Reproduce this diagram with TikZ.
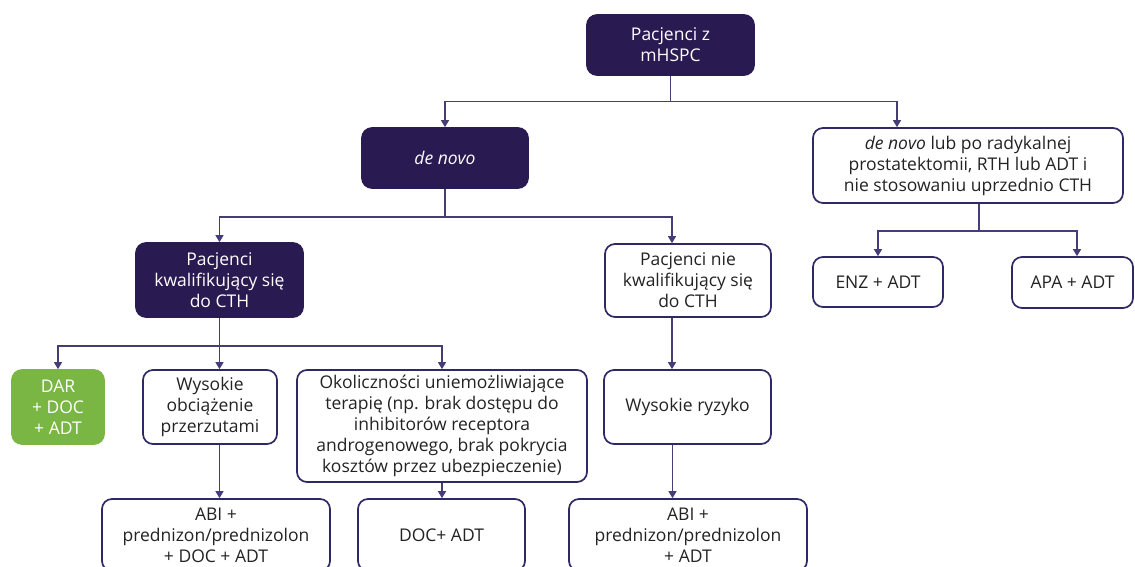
\documentclass[tikz,border=0pt]{standalone}
\usepackage{fontspec}
\setmainfont{Open Sans}
\usetikzlibrary{arrows.meta}
\definecolor{dk}{RGB}{42,26,82}
\definecolor{bd}{RGB}{46,40,100}
\definecolor{ln}{RGB}{70,60,120}
\definecolor{gr}{RGB}{122,182,68}
\definecolor{tx}{RGB}{35,35,35}
\begin{document}
\begin{tikzpicture}[x=1pt,y=-1pt,
  box/.style={draw=bd, line width=1.7pt, rounded corners=10pt, fill=white, align=center, inner sep=2pt, font=\fontsize{17.5}{21}\selectfont, text=tx},
  dbox/.style={box, fill=dk, draw=dk, text=white},
  gbox/.style={box, fill=gr, draw=gr, text=white},
  con/.style={draw=ln, line width=1.3pt},
  arr/.style={con, -{Triangle[length=7pt,width=8pt]}}]
\useasboundingbox (0,0) rectangle (1135,567);
\fill[white] (0,0) rectangle (1135,567);
% nodes
\node[dbox, minimum width=167pt, minimum height=60pt] (top) at (670.5,45) {Pacjenci z\\mHSPC};
\node[dbox, minimum width=166pt, minimum height=60pt] (denovo) at (445,158) {\itshape de novo};
\node[box, minimum width=310pt, minimum height=75pt] (right) at (968,165.5) {\textit{de novo} lub po radykalnej\\prostatektomii, RTH lub ADT i\\nie stosowaniu uprzednio CTH};
\node[dbox, minimum width=167pt, minimum height=74pt] (kwal) at (219.5,280) {Pacjenci\\kwalifikujący się\\do CTH};
\node[box, minimum width=166pt, minimum height=73pt] (niekwal) at (688,280.5) {Pacjenci nie\\kwalifikujący się\\do CTH};
\node[box, minimum width=130pt, minimum height=50pt] (enz) at (878,282) {ENZ + ADT};
\node[box, minimum width=121pt, minimum height=51pt] (apa) at (1072.5,282.5) {APA + ADT};
\node[gbox, minimum width=92pt, minimum height=74pt] (dar) at (58,407) {DAR\\+ DOC\\+ ADT};
\node[box, minimum width=134pt, minimum height=74pt] (wys) at (210,407) {Wysokie\\obciążenie\\przerzutami};
\node[box, minimum width=290pt, minimum height=112pt] (okol) at (442,426) {Okoliczności uniemożliwiające\\terapię (np. brak dostępu do\\inhibitorów receptora\\androgenowego, brak pokrycia\\kosztów przez ubezpieczenie)};
\node[box, minimum width=167pt, minimum height=74pt] (ryz) at (687.5,407) {Wysokie ryzyko};
\node[box, minimum width=228pt, minimum height=72pt] (abi1) at (216,535) {ABI +\\prednizon/prednizolon\\+ DOC + ADT};
\node[box, minimum width=167pt, minimum height=72pt] (doc) at (441.5,535) {DOC+ ADT};
\node[box, minimum width=238pt, minimum height=72pt] (abi2) at (688,535) {ABI +\\prednizon/prednizolon\\+ ADT};
% connectors
\draw[con] (top.south) -- ++(0,26) coordinate (j1);
\draw[arr] (j1) -| (denovo.north);
\draw[arr] (j1) -| ([xshift=-71pt]right.north);
\draw[con] ([xshift=11pt]right.south) -- ++(0,27) coordinate (j2);
\draw[arr] (j2) -| (enz.north);
\draw[arr] (j2) -| ([xshift=4.5pt]apa.north);
\draw[con] (denovo.south) -- ++(0,28) coordinate (j3);
\draw[arr] (j3) -| (kwal.north);
\draw[arr] (j3) -| ([xshift=-16pt]niekwal.north);
\draw[con] (kwal.south) -- ++(0,28) coordinate (j4);
\draw[arr] (j4) -| (dar.north);
\draw[arr] (j4) -- (j4 |- wys.north);
\draw[arr] (j4) -| (okol.north);
\draw[arr] (wys.south -| j4) -- (abi1.north -| j4);
\draw[arr] (okol.south) -- (okol.south |- doc.north);
\draw[arr] ([xshift=-16pt]niekwal.south) -- ([xshift=-16pt]niekwal.south |- ryz.north);
\draw[arr] ([xshift=-15pt]ryz.south) -- ([xshift=-15pt]ryz.south |- abi2.north);
\end{tikzpicture}
\end{document}
